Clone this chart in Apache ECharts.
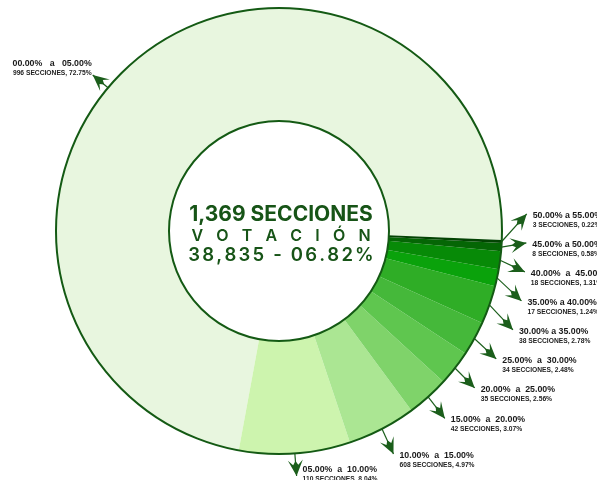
<!DOCTYPE html>
<html>
<head>
<meta charset="utf-8">
<script src="https://cdn.jsdelivr.net/npm/echarts@6/dist/echarts.min.js"></script>
<style>
  html, body { margin: 0; padding: 0; background: #fff; }
  #chart { width: 597px; height: 480px; }
</style>
</head>
<body>
<div id="chart"></div>
<script>
// Vote-share ranges (percentage bands) and how many sections fall in each
const rangeLabels = [
  '00.00%   a   05.00%', '05.00%  a  10.00%', '10.00%  a  15.00%', '15.00%  a  20.00%',
  '20.00%  a  25.00%', '25.00%  a  30.00%', '30.00% a 35.00%', '35.00% a 40.00%',
  '40.00%  a  45.00%', '45.00% a 50.00%', '50.00% a 55.00%'
];
const sectionCounts = [996, 110, 608, 42, 35, 34, 38, 17, 18, 8, 3];
const sectionShares = [72.75, 8.04, 4.97, 3.07, 2.56, 2.48, 2.78, 1.24, 1.31, 0.58, 0.22];
const sliceColors = [
  '#e8f6df', '#cdf4ae', '#abe693', '#7fd36a', '#5fc64f', '#45b83a',
  '#2fad26', '#0aa20b', '#078a07', '#056605', '#034403'
];

// Centre caption
const totalLine = '1,369 SECCIONES';
const titleLine = 'VOTACIÓN';
const voteLine = '38,835 - 06.82%';

const W = 597, H = 480;
const CX = 279, CY = 231, R_IN = 110, R_OUT = 223;
const LINE_LEN = 25;
const MIN_GAP = 29;      // vertical spacing between stacked labels
const LABEL_W = 75;      // labels closer than this horizontally must not overlap
const LABEL_DROP = 5;    // label block sits slightly below its arrow tip
const TIP_UP = 2;        // arrow tip above the stacking slot
const LABEL_DOWN = 4;    // label block below the stacking slot
const EDGE = '#145a14';
const ARROW = '#1b5e1b';
const INK = '#175417';

// Labels whose arrow leaves the rim away from the slice middle
const anchorShift = { 0: { turn: 11.4, len: 20 } };

const edgePts = {};   // rim points reported by the pie label layout
let tips = null;      // final arrow and label geometry per slice

function spaced(str, style) {
  return str.split('').map(function (ch) { return '{' + style + '|' + ch + '}'; }).join('');
}

function arrowHead(tail, tip) {
  const dx = tip[0] - tail[0], dy = tip[1] - tail[1];
  const len = Math.hypot(dx, dy) || 1;
  const ux = dx / len, uy = dy / len, nx = -uy, ny = ux;
  const local = [[0, 0], [-16, -7.5], [-11, -2.6], [-15, 0], [-11, 2.6], [-16, 7.5]];
  return local.map(function (p) {
    return [tip[0] + p[0] * ux + p[1] * nx, tip[1] + p[0] * uy + p[1] * ny];
  });
}

// stack the right-hand labels without collisions; arrows keep their radial x
function layoutTips() {
  const items = Object.keys(edgePts).map(function (k) {
    const i = +k, e = edgePts[i];
    const sh = anchorShift[i];
    let a = Math.atan2(CY - e[1], e[0] - CX);
    if (sh) a += sh.turn * Math.PI / 180;
    const rl = R_OUT + (sh ? sh.len : LINE_LEN);
    const nat = [CX + rl * Math.cos(a), CY - rl * Math.sin(a)];
    return {
      i: i, left: Math.cos(a) < 0, nat: nat, y: nat[1] + LABEL_DROP,
      edge: [CX + R_OUT * Math.cos(a), CY - R_OUT * Math.sin(a)]
    };
  });
  const right = items.filter(function (d) { return !d.left; })
    .sort(function (a, b) { return a.nat[1] - b.nat[1]; });
  for (let iter = 0; iter < 500; iter++) {
    for (let k = 0; k < right.length - 1; k++) {
      const u = right[k], v = right[k + 1];
      if (Math.abs(u.nat[0] - v.nat[0]) > LABEL_W) continue;
      const gap = v.y - u.y;
      if (gap < MIN_GAP) {
        const d = (MIN_GAP - gap) / 2;
        u.y -= d;
        v.y += d;
      }
    }
  }
  const out = {};
  items.forEach(function (d) {
    if (d.left) {
      out[d.i] = { edge: d.edge, tip: d.nat, left: true, labelY: d.nat[1] };
      return;
    }
    const labelY = Math.min(d.y + LABEL_DOWN, H - 5.5);
    const tipY = Math.min(d.y - TIP_UP, H - 4);
    out[d.i] = { edge: d.edge, tip: [d.nat[0], tipY], left: false, labelY: labelY };
  });
  return out;
}

const chart = echarts.init(document.getElementById('chart'), null, { renderer: 'canvas' });

const centerText = [
  {
    type: 'text', z: 20, x: 281, y: 215,
    style: {
      text: totalLine, align: 'center', verticalAlign: 'middle',
      font: 'bold 21px Inter', fill: INK
    }
  },
  {
    type: 'text', z: 20, x: 281, y: 236,
    style: {
      text: spaced(titleLine, 'c'), align: 'center', verticalAlign: 'middle',
      rich: { c: { fontFamily: 'Inter', fontWeight: 600, fontSize: 16, fill: INK, padding: [0, 6.6, 0, 6.6] } }
    }
  },
  {
    type: 'text', z: 20, x: 281, y: 255,
    style: {
      text: spaced(voteLine, 'c'), align: 'center', verticalAlign: 'middle',
      rich: { c: { fontFamily: 'Inter', fontWeight: 600, fontSize: 18.5, fill: INK, padding: [0, 1.1, 0, 1.1] } }
    }
  }
];

function buildOption(graphic) {
  return {
    animation: false,
    backgroundColor: '#fff',
    series: [
      {
        type: 'pie',
        center: [CX, CY],
        radius: [R_IN - 1, R_OUT],
        startAngle: 357.7,
        clockwise: false,
        avoidLabelOverlap: true,
        emphasis: { disabled: true },
        itemStyle: { borderWidth: 0 },
        data: sectionShares.map(function (v, i) {
          return { value: v, name: rangeLabels[i], itemStyle: { color: sliceColors[i] } };
        }),
        label: {
          show: true,
          position: 'outside',
          alignTo: 'none',
          width: 130,
          overflow: 'none',
          formatter: function (p) {
            const i = p.dataIndex;
            return '{a|' + rangeLabels[i] + '}\n{b|' + sectionCounts[i] + ' SECCIONES, ' +
              sectionShares[i].toFixed(2) + '%}';
          },
          rich: {
            a: { fontFamily: 'Liberation Sans', fontWeight: 'bold', fontSize: 8.8, lineHeight: 10, color: '#1a1a1a' },
            b: { fontFamily: 'Liberation Sans', fontWeight: 'bold', fontSize: 6.7, lineHeight: 9, color: '#222' }
          }
        },
        labelLine: {
          show: true,
          length: LINE_LEN,
          length2: 0,
          lineStyle: { color: ARROW, width: 1.2 }
        },
        labelLayout: function (p) {
          const pts = p.labelLinePoints;
          if (!pts) return;
          const i = p.dataIndex;
          if (!tips) { edgePts[i] = pts[0]; return; }
          const g = tips[i];
          const e = g.edge, t = g.tip;
          if (g.left) {
            return { x: t[0] - 1, y: t[1] + 3, align: 'right', verticalAlign: 'bottom', labelLinePoints: [e, t, t] };
          }
          return { x: t[0] + 6, y: g.labelY, align: 'left', verticalAlign: 'middle', labelLinePoints: [e, t, t] };
        }
      },
      {
        // white centre disc
        type: 'pie', silent: true, center: [CX, CY], radius: [0, R_IN],
        label: { show: false }, labelLine: { show: false }, emphasis: { disabled: true },
        z: 3,
        data: [{ value: 1, itemStyle: { color: '#fff', borderColor: EDGE, borderWidth: 2 } }]
      },
      {
        // outer rim outline
        type: 'pie', silent: true, center: [CX, CY], radius: [0, R_OUT],
        label: { show: false }, labelLine: { show: false }, emphasis: { disabled: true },
        z: 3,
        data: [{ value: 1, itemStyle: { color: 'rgba(0,0,0,0)', borderColor: EDGE, borderWidth: 2 } }]
      }
    ],
    graphic: graphic
  };
}

// first pass collects where the pie puts each slice's rim point
chart.setOption(buildOption(centerText));
tips = layoutTips();

// arrowheads at the ends of the label lines
const heads = Object.keys(tips).map(function (k) {
  const g = tips[k];
  return { type: 'polygon', z: 10, silent: true, shape: { points: arrowHead(g.edge, g.tip) }, style: { fill: ARROW } };
});
chart.setOption(buildOption(centerText.concat(heads)), true);
</script>
</body>
</html>
